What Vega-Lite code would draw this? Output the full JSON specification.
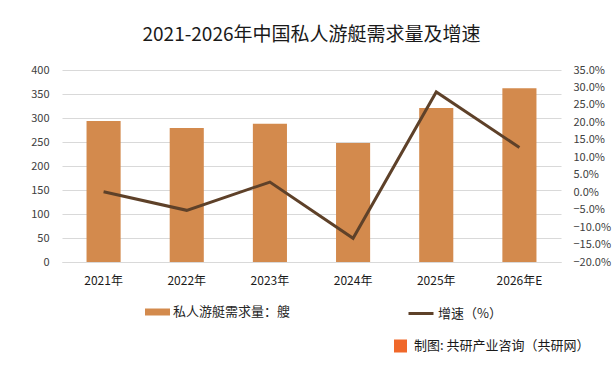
{
  "$schema": "https://vega.github.io/schema/vega-lite/v6.json",
  "width": 499,
  "height": 192,
  "autosize": {"type": "none"},
  "padding": {"left": 62, "top": 70, "right": 53, "bottom": 106},
  "background": "#ffffff",
  "config": {
    "view": {"stroke": null},
    "font": "Noto Sans CJK SC",
    "axis": {"labelFont": "Noto Sans CJK SC", "labelColor": "#404040"},
    "legend": {"labelFont": "Noto Sans CJK SC", "labelLimit": 400}
  },
  "title": {
    "text": "2021-2026年中国私人游艇需求量及增速",
    "fontSize": 19,
    "fontWeight": "normal",
    "color": "#1a1a1a",
    "anchor": "middle",
    "offset": 19
  },
  "data": {
    "values": [
      {"year": "2021年", "demand": 294, "growth": 0.001},
      {"year": "2022年", "demand": 279, "growth": -0.052},
      {"year": "2023年", "demand": 288, "growth": 0.029},
      {"year": "2024年", "demand": 248, "growth": -0.132},
      {"year": "2025年", "demand": 321, "growth": 0.287},
      {"year": "2026年E", "demand": 362, "growth": 0.128}
    ]
  },
  "encoding": {
    "x": {
      "field": "year",
      "type": "nominal",
      "sort": null,
      "scale": {"paddingInner": 0.59, "paddingOuter": 0.295},
      "axis": {
        "title": null,
        "labelAngle": 0,
        "ticks": false,
        "domainColor": "#d9d9d9",
        "labelFontSize": 12,
        "labelColor": "#1a1a1a",
        "labelPadding": 13
      }
    }
  },
  "layer": [
    {
      "mark": {"type": "bar"},
      "encoding": {
        "y": {
          "field": "demand",
          "type": "quantitative",
          "scale": {"domain": [0, 400], "nice": false},
          "axis": {
            "title": null,
            "values": [0, 50, 100, 150, 200, 250, 300, 350, 400],
            "grid": true,
            "gridColor": "#d9d9d9",
            "domain": false,
            "ticks": false,
            "labelFontSize": 11,
            "labelPadding": 13
          }
        },
        "fill": {
          "datum": "私人游艇需求量：艘",
          "type": "nominal",
          "scale": {"range": ["#D38A4D"]},
          "legend": {
            "title": null,
            "orient": "none",
            "legendX": 83,
            "legendY": 229.5,
            "padding": 0,
            "symbolType": "M-1,-0.28H1V0.28H-1Z",
            "symbolSize": 625,
            "symbolStrokeWidth": 0,
            "labelFontSize": 13,
            "labelColor": "#262626",
            "labelOffset": 3
          }
        }
      }
    },
    {
      "mark": {"type": "line", "strokeWidth": 3},
      "encoding": {
        "y": {
          "field": "growth",
          "type": "quantitative",
          "scale": {"domain": [-0.2, 0.35], "nice": false, "zero": false},
          "axis": {
            "title": null,
            "orient": "right",
            "format": ".1%",
            "values": [-0.2, -0.15, -0.1, -0.05, 0, 0.05, 0.1, 0.15, 0.2, 0.25, 0.3, 0.35],
            "grid": false,
            "domain": false,
            "ticks": false,
            "labelFontSize": 11,
            "labelPadding": 12
          }
        },
        "stroke": {
          "datum": "增速（%）",
          "type": "nominal",
          "scale": {"range": ["#5E4129"]},
          "legend": {
            "title": null,
            "orient": "none",
            "legendX": 345,
            "legendY": 229.5,
            "padding": 0,
            "symbolType": "stroke",
            "symbolSize": 625,
            "symbolStrokeWidth": 3,
            "labelFontSize": 13,
            "labelColor": "#262626",
            "labelOffset": 3
          }
        }
      }
    },
    {
      "mark": {"type": "square", "opacity": 0},
      "encoding": {
        "color": {
          "datum": "制图: 共研产业咨询（共研网）",
          "type": "nominal",
          "scale": {"range": ["#F0682A"]},
          "legend": {
            "title": null,
            "orient": "none",
            "legendX": 331,
            "legendY": 268.5,
            "padding": 0,
            "symbolType": "square",
            "symbolSize": 169,
            "labelFontSize": 13,
            "labelColor": "#1a1a1a",
            "labelOffset": 6,
            "labelLimit": 400,
            "encode": {"symbols": {"update": {"opacity": {"value": 1}}}}
          }
        }
      }
    }
  ],
  "resolve": {"scale": {"y": "independent"}}
}
